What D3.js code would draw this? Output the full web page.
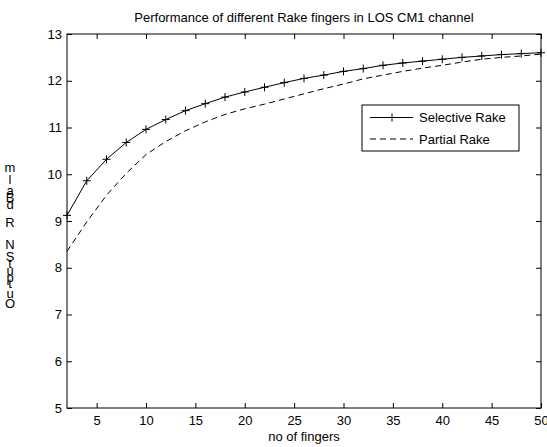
<!DOCTYPE html>
<html>
<head>
<meta charset="utf-8">
<script src="https://cdn.jsdelivr.net/npm/d3@7"></script>
<style>
  body { margin: 0; background: #fff; }
  text { font-family: "Liberation Sans", Arial, sans-serif; font-size: 13px; fill: #000; }
  .axis path { display: none; }
  .axis line { stroke: #000; }
</style>
</head>
<body>
<div id="chart"></div>
<script>
// data
var fingers = [2, 4, 6, 8, 10, 12, 14, 16, 18, 20, 22, 24, 26, 28, 30, 32, 34, 36, 38, 40, 42, 44, 46, 48, 50];
var selectiveRake = [9.12, 9.86, 10.32, 10.68, 10.96, 11.17, 11.36, 11.51, 11.65, 11.76, 11.86, 11.96, 12.05, 12.12, 12.2, 12.26, 12.33, 12.38, 12.42, 12.46, 12.5, 12.53, 12.56, 12.58, 12.6];
var partialRake = [8.35, 8.98, 9.55, 10.02, 10.42, 10.7, 10.93, 11.12, 11.28, 11.4, 11.5, 11.61, 11.72, 11.83, 11.93, 12.04, 12.12, 12.2, 12.27, 12.33, 12.4, 12.46, 12.5, 12.53, 12.57];
var xTicks = [5, 10, 15, 20, 25, 30, 35, 40, 45, 50];
var yTicks = [5, 6, 7, 8, 9, 10, 11, 12, 13];
var titleText = "Performance of different Rake fingers in LOS CM1 channel";
var xLabel = "no of fingers";
// y label as it shows up: upright glyphs stacked, top to bottom
var yLabelChars = ["m", "l", "a", "B", "d", "R", "N", "S", "t", "u", "p", "t", "u", "O"];
var yLabelPos = [168, 180, 191, 198, 205, 223, 245, 257, 264, 271, 278, 284, 294, 304];
var seriesNames = ["Selective Rake", "Partial Rake"];

var width = 547, height = 447;
var margin = { top: 34, right: 6, bottom: 39, left: 67 };
var w = width - margin.left - margin.right,
    h = height - margin.top - margin.bottom;

var svg = d3.select("#chart").append("svg")
    .attr("width", width)
    .attr("height", height);

svg.append("rect").attr("width", width).attr("height", height).attr("fill", "#fff");

var g = svg.append("g")
    .attr("transform", "translate(" + margin.left + "," + margin.top + ")");

var x = d3.scaleLinear().domain([2, 50]).range([0, w]);
var y = d3.scaleLinear().domain([5, 13]).range([h, 0]);

// axes, ticks pointing inside like matlab
g.append("g").attr("class", "axis")
    .attr("transform", "translate(0," + h + ")")
    .call(d3.axisBottom(x).tickValues(xTicks).tickSizeInner(-5).tickSizeOuter(0).tickPadding(8));
g.append("g").attr("class", "axis")
    .call(d3.axisTop(x).tickValues(xTicks).tickSizeInner(-5).tickSizeOuter(0).tickFormat(""));
g.append("g").attr("class", "axis")
    .call(d3.axisLeft(y).tickValues(yTicks).tickSizeInner(-5).tickSizeOuter(0).tickPadding(5));
g.append("g").attr("class", "axis")
    .attr("transform", "translate(" + w + ",0)")
    .call(d3.axisRight(y).tickValues(yTicks).tickSizeInner(-5).tickSizeOuter(0).tickFormat(""));

g.selectAll(".axis text").style("font-size", "13px");

g.append("rect")
    .attr("width", w).attr("height", h)
    .attr("fill", "none").attr("stroke", "#000").attr("stroke-width", 1);

var line = function(vals) {
  return d3.line()
    .x(function(d, i) { return x(fingers[i]); })
    .y(function(d) { return y(d); })(vals);
};

g.append("path")
    .attr("d", line(partialRake))
    .attr("fill", "none").attr("stroke", "#000").attr("stroke-width", 1)
    .attr("stroke-dasharray", "6,4");

g.append("path")
    .attr("d", line(selectiveRake))
    .attr("fill", "none").attr("stroke", "#000").attr("stroke-width", 1);

var plus = function(sel, s) {
  sel.append("path")
    .attr("d", "M" + (-s) + ",0H" + s + "M0," + (-s) + "V" + s)
    .attr("stroke", "#000").attr("stroke-width", 1).attr("fill", "none");
};

g.selectAll(".marker")
    .data(selectiveRake)
    .enter().append("g")
      .attr("class", "marker")
      .attr("transform", function(d, i) { return "translate(" + x(fingers[i]) + "," + y(d) + ")"; })
      .each(function() { plus(d3.select(this), 4); });

// title and labels
svg.append("text")
    .attr("x", margin.left + w / 2).attr("y", 22)
    .style("text-anchor", "middle")
    .text(titleText);

svg.append("text")
    .attr("x", margin.left + w / 2).attr("y", 441)
    .style("text-anchor", "middle")
    .text(xLabel);

svg.selectAll(".ych")
    .data(yLabelChars)
    .enter().append("text")
      .attr("class", "ych")
      .attr("x", 10)
      .attr("y", function(d, i) { return yLabelPos[i] + 4; })
      .style("text-anchor", "middle")
      .text(function(d) { return d; });

// legend
var lg = svg.append("g").attr("transform", "translate(362,105)");
lg.append("rect")
    .attr("width", 157).attr("height", 46)
    .attr("fill", "#fff").attr("stroke", "#000").attr("stroke-width", 1);

seriesNames.forEach(function(name, i) {
  var ly = 12.5 + i * 21.5;
  lg.append("line")
    .attr("x1", 8).attr("x2", 51).attr("y1", ly).attr("y2", ly)
    .attr("stroke", "#000").attr("stroke-width", 1)
    .attr("stroke-dasharray", i == 1 ? "6,4" : null);
  if (i == 0) {
    var m = lg.append("g").attr("transform", "translate(30," + ly + ")");
    plus(m, 4);
  }
  lg.append("text")
    .attr("x", 57).attr("y", ly + 4.5)
    .text(name);
});
</script>
</body>
</html>
